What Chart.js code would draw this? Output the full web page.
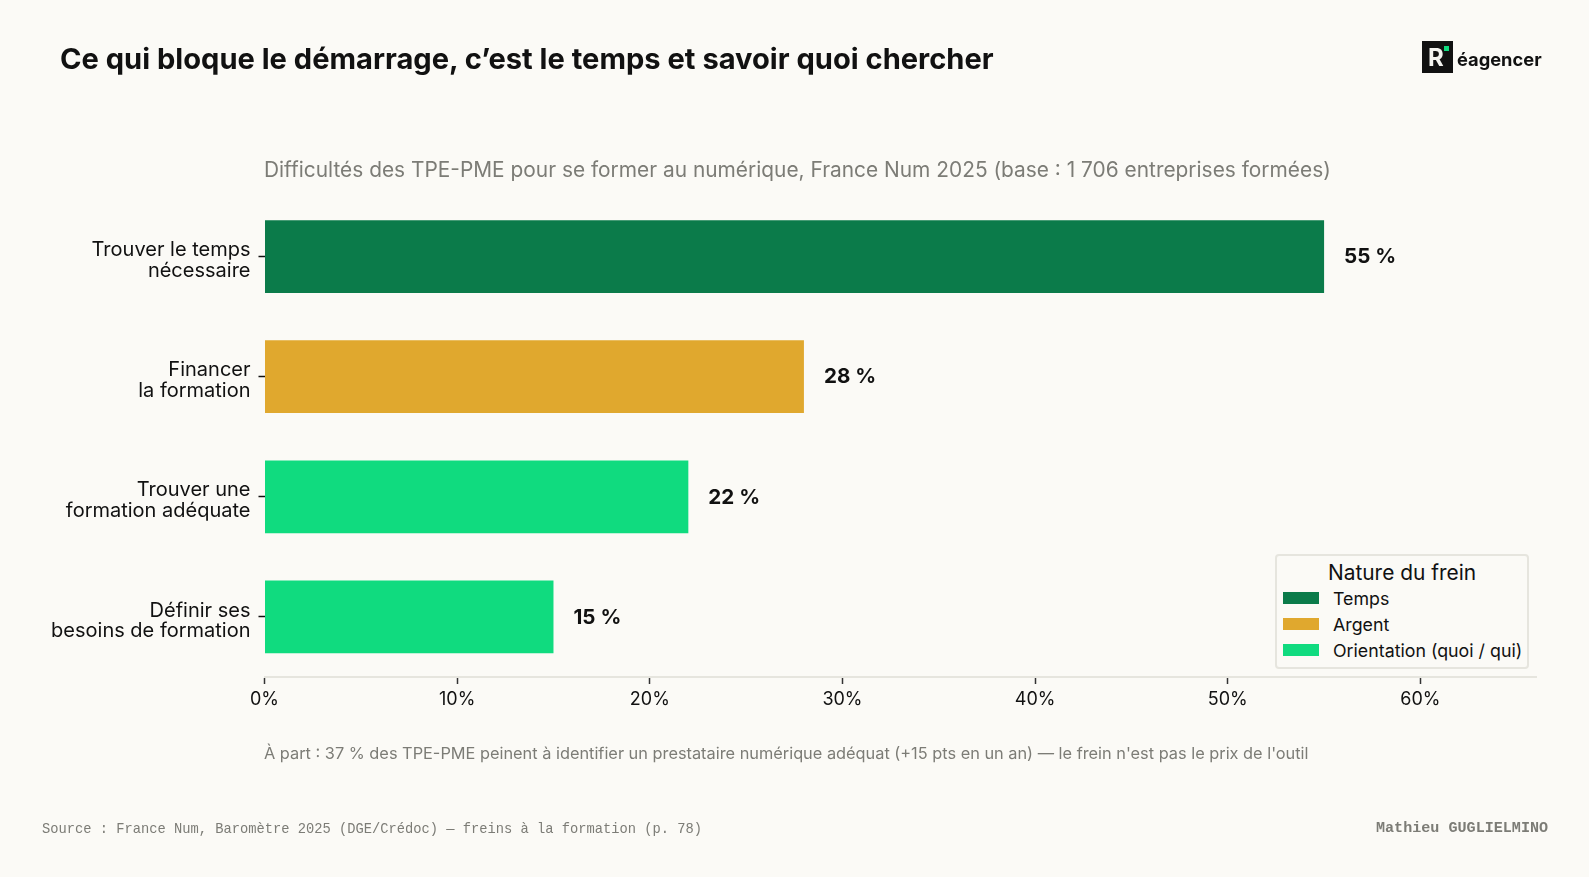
<!DOCTYPE html>
<html lang="fr">
<head>
<meta charset="utf-8">
<title>Freins à la formation</title>
<script src="https://cdn.jsdelivr.net/npm/chart.js@4/dist/chart.umd.js"></script>
<style>
  html, body { margin: 0; padding: 0; background: #fbfaf6; }
  #page { position: relative; width: 1589px; height: 877px; overflow: hidden; font-family: Inter, sans-serif; color: #111; }
  #page canvas { position: absolute; left: 0; top: 0; }
  .txt { position: absolute; white-space: nowrap; line-height: 1; }
  #titre { left: 60px; top: 44px; font-size: 29.1px; font-weight: 700; }
  #sous-titre { left: 264px; top: 160px; font-size: 20.88px; color: #7c7c76; }
  #note { left: 264px; top: 745px; font-size: 16.34px; color: #7c7c76; }
  #source { left: 42px; top: 823px; font-family: "Liberation Mono", monospace; font-size: 13.75px; color: #7c7c76; }
  #auteur { left: 1376px; top: 821px; font-family: "Liberation Mono", monospace; font-size: 15.1px; font-weight: 700; color: #7c7c76; }
  #logo { position: absolute; left: 1422px; top: 41px; width: 31px; height: 32px; background: #111; }
  #logo b { position: absolute; left: 6px; top: 5px; font-size: 24px; line-height: 1; color: #f4f4f0; font-weight: 700; }
  #logo i { position: absolute; left: 22px; top: 5px; width: 5px; height: 5px; background: #10db7f; }
  #marque { left: 1457px; top: 50px; font-size: 18.3px; font-weight: 700; }
  #legende { position: absolute; left: 1275px; top: 554px; width: 250px; height: 111px; border: 2px solid #e6e5de; border-radius: 4px; background: #fbfaf6; }
  #legende .titre { position: absolute; left: 0; right: 0; top: 4px; text-align: center; font-size: 20.9px; line-height: 1.2; }
  #legende .ligne { position: absolute; left: 6px; height: 20px; font-size: 17.8px; line-height: 20px; }
  #legende .ligne span { position: absolute; left: 0; top: 3px; width: 36px; height: 12px; }
  #legende .ligne em { position: absolute; left: 50px; font-style: normal; white-space: nowrap; }
</style>
</head>
<body>
<div id="page">
  <canvas id="chartFreins" width="1589" height="877"></canvas>
  <div class="txt" id="titre">Ce qui bloque le démarrage, c’est le temps et savoir quoi chercher</div>
  <div class="txt" id="sous-titre">Difficultés des TPE-PME pour se former au numérique, France Num 2025 (base : 1 706 entreprises formées)</div>
  <div class="txt" id="note">À part : 37 % des TPE-PME peinent à identifier un prestataire numérique adéquat (+15 pts en un an) — le frein n'est pas le prix de l'outil</div>
  <div class="txt" id="source">Source : France Num, Baromètre 2025 (DGE/Crédoc) — freins à la formation (p. 78)</div>
  <div class="txt" id="auteur">Mathieu GUGLIELMINO</div>
  <div id="logo"><b>R</b><i></i></div>
  <div class="txt" id="marque">éagencer</div>
  <div id="legende"><div class="titre">Nature du frein</div></div>
</div>

<script>
/* Données */
const categories = [
  ['Trouver le temps', 'nécessaire'],
  ['Financer', 'la formation'],
  ['Trouver une', 'formation adéquate'],
  ['Définir ses', 'besoins de formation'],
];
const valeursTemps = [55, null, null, null];
const valeursArgent = [null, 28, null, null];
const valeursOrientation = [null, null, 22, 15];
const ticksPourcent = [0, 10, 20, 30, 40, 50, 60];

const VERT_FONCE = '#0b7b4a';
const OR = '#e0a82e';
const VERT_VIF = '#10db7f';
const ENCRE = '#111111';

/* Étiquettes de valeur au bout des barres */
const etiquettesBarres = {
  id: 'etiquettesBarres',
  afterDatasetsDraw(chart) {
    const { ctx } = chart;
    ctx.save();
    ctx.font = '700 20.6px Inter, sans-serif';
    ctx.fillStyle = ENCRE;
    ctx.textAlign = 'left';
    ctx.textBaseline = 'middle';
    chart.data.datasets.forEach((ds, i) => {
      chart.getDatasetMeta(i).data.forEach((bar, j) => {
        if (ds.data[j] === null) return;
        ctx.fillText(`${ds.data[j]} %`, bar.x + 20, bar.y + 0.5);
      });
    });
    ctx.restore();
  },
};

/* Libellés de catégorie un peu sous leur tiret */
const decalageLibelles = {
  id: 'decalageLibelles',
  beforeDraw(chart) {
    chart.scales.y.getLabelItems().forEach(item => {
      if (!item.decale) {
        item.options.translation[1] += 4;
        item.decale = true;
      }
    });
  },
};

const chart = new Chart(document.getElementById('chartFreins'), {
  type: 'bar',
  data: {
    labels: categories,
    datasets: [
      { label: 'Temps', data: valeursTemps, backgroundColor: VERT_FONCE },
      { label: 'Argent', data: valeursArgent, backgroundColor: OR },
      { label: 'Orientation (quoi / qui)', data: valeursOrientation, backgroundColor: VERT_VIF },
    ],
  },
  options: {
    indexAxis: 'y',
    responsive: false,
    animation: false,
    categoryPercentage: 0.606,
    barPercentage: 1,
    layout: { padding: { top: 196.5, left: 0, right: 53, bottom: 0 } },
    plugins: {
      legend: { display: false },
      title: { display: false },
      tooltip: { enabled: false },
    },
    scales: {
      x: {
        stacked: true,
        min: 0,
        max: 66,
        afterFit: s => { s.height = 200; },
        afterBuildTicks: s => { s.ticks = ticksPourcent.map(value => ({ value })); },
        border: { color: '#e6e5de', width: 2 },
        grid: { drawOnChartArea: false, drawTicks: true, tickLength: 7, tickColor: '#333', tickWidth: 1.5 },
        ticks: {
          color: ENCRE,
          padding: 5,
          maxRotation: 0,
          font: { family: 'Inter, sans-serif', size: 18 },
          callback: v => `${v}%`,
        },
      },
      y: {
        stacked: true,
        afterFit: s => { s.width = 264.5; },
        border: { display: false },
        grid: { offset: false, drawOnChartArea: false, drawTicks: true, tickLength: 6, tickColor: '#111', tickWidth: 1.5 },
        ticks: {
          color: ENCRE,
          padding: 8,
          font: { family: 'Inter, sans-serif', size: 20, lineHeight: 1.04 },
        },
      },
    },
  },
  plugins: [etiquettesBarres, decalageLibelles],
});

/* Légende construite à partir des séries */
const legende = document.getElementById('legende');
chart.data.datasets.forEach((ds, i) => {
  const ligne = document.createElement('div');
  ligne.className = 'ligne';
  ligne.style.top = `${33 + i * 26}px`;
  ligne.innerHTML = `<span style="background:${ds.backgroundColor}"></span><em>${ds.label}</em>`;
  legende.appendChild(ligne);
});
</script>
</body>
</html>
